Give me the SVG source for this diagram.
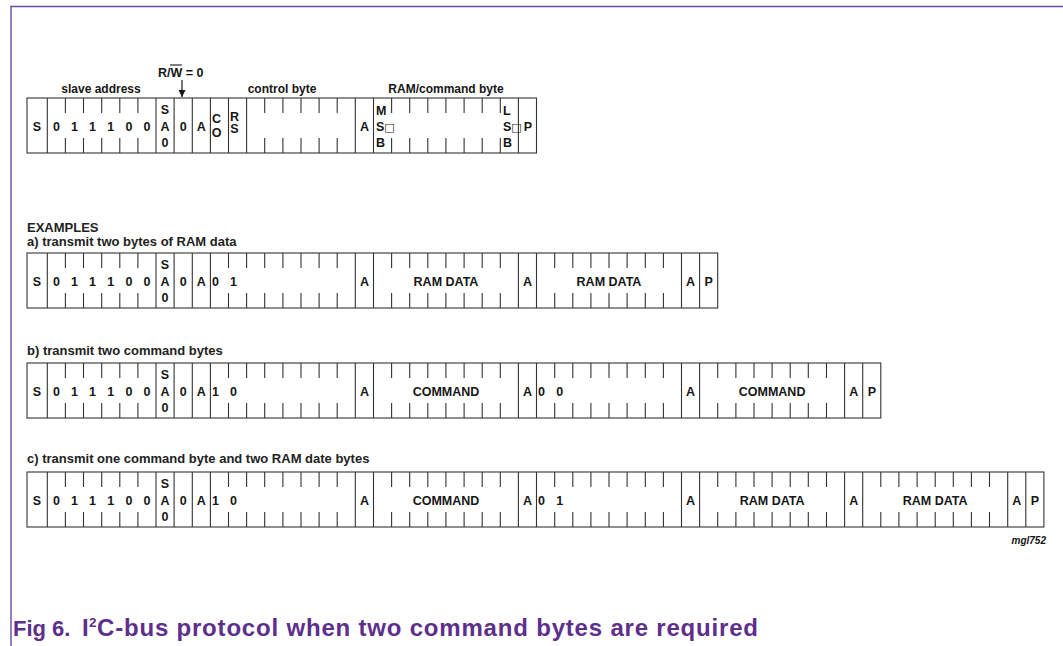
<svg xmlns="http://www.w3.org/2000/svg" width="1063" height="646" viewBox="0 0 1063 646">
<defs>
<style>
text{font-family:"Liberation Sans",Arial,Helvetica,sans-serif;fill:#161616}
.h{font-weight:bold;font-size:12px}
.b{font-weight:bold;font-size:12.5px}
.c{text-anchor:middle}
.lbl{font-weight:bold;font-size:13px;fill:#222}
.sq{font-family:"DejaVu Sans",sans-serif;font-size:11px;font-weight:normal}
.box{fill:none;stroke:#333;stroke-width:1.1}
.sep{fill:none;stroke:#333;stroke-width:1.1}
.frame{fill:none;stroke:#6a4a9c;stroke-width:1.4}
.cap{font-weight:bold;font-size:22px;fill:#5d2e8c}
</style>
<marker id="ah" viewBox="0 0 10 10" refX="10" refY="5" markerWidth="7" markerHeight="10" markerUnits="userSpaceOnUse" orient="auto"><path d="M0 0L10 5L0 10z" fill="#161616"/></marker>
</defs>
<rect width="1063" height="646" fill="#fff"/>
<path class="frame" d="M1063 6.5H11V646"/>

<g id="format">
<text class="h c" x="101" y="92.5">slave address</text>
<text class="h c" x="282" y="92.5">control byte</text>
<text class="h c" x="446" y="92.5">RAM/command byte</text>
<text class="h" x="158" y="77" style="font-size:12.5px">R/W = 0</text>
<path d="M170 65H181.8" stroke="#161616" stroke-width="1.1"/>
<rect class="box" x="27" y="98" width="509.5" height="55"/>
<path class="sep" d="M47.3 98V153M156 98V153M174.1 98V153M192.3 98V153M210.4 98V153M228.5 98V153M246.6 98V153M355.3 98V153M373.5 98V153M518.4 98V153"/>
<path class="sep" d="M65.4 98v15M83.5 98v15M101.7 98v15M119.8 98v15M137.9 98v15M264.7 98v15M282.9 98v15M301 98v15M319.1 98v15M337.2 98v15M391.6 98v15M409.7 98v15M427.8 98v15M445.9 98v15M464.1 98v15M482.2 98v15M500.3 98v15M65.4 153v-15M83.5 153v-15M101.7 153v-15M119.8 153v-15M137.9 153v-15M264.7 153v-15M282.9 153v-15M301 153v-15M319.1 153v-15M337.2 153v-15M391.6 153v-15M409.7 153v-15M427.8 153v-15M445.9 153v-15M464.1 153v-15M482.2 153v-15M500.3 153v-15"/>
<g class="b c">
<text x="37" y="130.5">S</text>
<text x="56.4" y="130.5">0</text><text x="74.5" y="130.5">1</text><text x="92.6" y="130.5">1</text><text x="110.7" y="130.5">1</text><text x="128.9" y="130.5">0</text><text x="147" y="130.5">0</text>
<text x="165" y="114">S</text><text x="165" y="130.5">A</text><text x="165" y="147">0</text>
<text x="183.2" y="130.5">0</text>
<text x="201.3" y="130.5">A</text>
<text x="216.5" y="122.5">C</text><text x="216.5" y="136.5">O</text>
<text x="234.5" y="121">R</text><text x="234.5" y="133">S</text>
<text x="364.4" y="130.5">A</text>
<text x="527.8" y="130.5">P</text>
</g>
<g class="b">
<text x="376" y="114.5">M</text><text x="376" y="131">S<tspan class="sq">□</tspan></text><text x="376" y="147">B</text>
<text x="503" y="114.5">L</text><text x="503" y="131">S<tspan class="sq">□</tspan></text><text x="503" y="147">B</text>
</g>
</g>

<g id="example-a">
<text class="lbl" x="27" y="231.5">EXAMPLES</text>
<text class="lbl" x="27" y="246">a) transmit two bytes of RAM data</text>
<rect class="box" x="27" y="253" width="690.7" height="55"/>
<path class="sep" d="M47.3 253V308M156 253V308M174.1 253V308M192.3 253V308M210.4 253V308M355.3 253V308M373.5 253V308M518.4 253V308M536.5 253V308M681.5 253V308M699.6 253V308"/>
<path class="sep" d="M65.4 253v15M83.5 253v15M101.7 253v15M119.8 253v15M137.9 253v15M228.5 253v15M246.6 253v15M264.7 253v15M282.9 253v15M301 253v15M319.1 253v15M337.2 253v15M391.6 253v15M409.7 253v15M427.8 253v15M445.9 253v15M464.1 253v15M482.2 253v15M500.3 253v15M554.7 253v15M572.8 253v15M590.9 253v15M609 253v15M627.1 253v15M645.3 253v15M663.4 253v15M65.4 308v-15M83.5 308v-15M101.7 308v-15M119.8 308v-15M137.9 308v-15M228.5 308v-15M246.6 308v-15M264.7 308v-15M282.9 308v-15M301 308v-15M319.1 308v-15M337.2 308v-15M391.6 308v-15M409.7 308v-15M427.8 308v-15M445.9 308v-15M464.1 308v-15M482.2 308v-15M500.3 308v-15M554.7 308v-15M572.8 308v-15M590.9 308v-15M609 308v-15M627.1 308v-15M645.3 308v-15M663.4 308v-15"/>
<g class="b c">
<text x="37" y="285.5">S</text>
<text x="56.4" y="285.5">0</text><text x="74.5" y="285.5">1</text><text x="92.6" y="285.5">1</text><text x="110.7" y="285.5">1</text><text x="128.9" y="285.5">0</text><text x="147" y="285.5">0</text>
<text x="165" y="269">S</text><text x="165" y="285.5">A</text><text x="165" y="302">0</text>
<text x="183.2" y="285.5">0</text>
<text x="201.3" y="285.5">A</text>
<text x="215.5" y="285.5">0</text><text x="233.6" y="285.5">1</text>
<text x="364.4" y="285.5">A</text>
<text x="446" y="285.5">RAM DATA</text>
<text x="527.5" y="285.5">A</text>
<text x="609" y="285.5">RAM DATA</text>
<text x="690.6" y="285.5">A</text>
<text x="708.7" y="285.5">P</text>
</g>
</g>

<g id="example-b">
<text class="lbl" x="27" y="355">b) transmit two command bytes</text>
<rect class="box" x="27" y="363" width="853.8" height="55"/>
<path class="sep" d="M47.3 363V418M156 363V418M174.1 363V418M192.3 363V418M210.4 363V418M355.3 363V418M373.5 363V418M518.4 363V418M536.5 363V418M681.5 363V418M699.6 363V418M844.6 363V418M862.7 363V418"/>
<path class="sep" d="M65.4 363v15M83.5 363v15M101.7 363v15M119.8 363v15M137.9 363v15M228.5 363v15M246.6 363v15M264.7 363v15M282.9 363v15M301 363v15M319.1 363v15M337.2 363v15M391.6 363v15M409.7 363v15M427.8 363v15M445.9 363v15M464.1 363v15M482.2 363v15M500.3 363v15M554.7 363v15M572.8 363v15M590.9 363v15M609 363v15M627.1 363v15M645.3 363v15M663.4 363v15M717.7 363v15M735.9 363v15M754 363v15M772.1 363v15M790.2 363v15M808.3 363v15M826.5 363v15M65.4 418v-15M83.5 418v-15M101.7 418v-15M119.8 418v-15M137.9 418v-15M228.5 418v-15M246.6 418v-15M264.7 418v-15M282.9 418v-15M301 418v-15M319.1 418v-15M337.2 418v-15M391.6 418v-15M409.7 418v-15M427.8 418v-15M445.9 418v-15M464.1 418v-15M482.2 418v-15M500.3 418v-15M554.7 418v-15M572.8 418v-15M590.9 418v-15M609 418v-15M627.1 418v-15M645.3 418v-15M663.4 418v-15M717.7 418v-15M735.9 418v-15M754 418v-15M772.1 418v-15M790.2 418v-15M808.3 418v-15M826.5 418v-15"/>
<g class="b c">
<text x="37" y="395.5">S</text>
<text x="56.4" y="395.5">0</text><text x="74.5" y="395.5">1</text><text x="92.6" y="395.5">1</text><text x="110.7" y="395.5">1</text><text x="128.9" y="395.5">0</text><text x="147" y="395.5">0</text>
<text x="165" y="379">S</text><text x="165" y="395.5">A</text><text x="165" y="412">0</text>
<text x="183.2" y="395.5">0</text>
<text x="201.3" y="395.5">A</text>
<text x="215.5" y="395.5">1</text><text x="233.6" y="395.5">0</text>
<text x="364.4" y="395.5">A</text>
<text x="446" y="395.5">COMMAND</text>
<text x="527.5" y="395.5">A</text>
<text x="541.6" y="395.5">0</text><text x="559.7" y="395.5">0</text>
<text x="690.6" y="395.5">A</text>
<text x="772.1" y="395.5">COMMAND</text>
<text x="853.7" y="395.5">A</text>
<text x="871.8" y="395.5">P</text>
</g>
</g>

<g id="example-c">
<text class="lbl" x="27" y="463">c) transmit one command byte and two RAM date bytes</text>
<rect class="box" x="27" y="472" width="1016.9" height="55"/>
<path class="sep" d="M47.3 472V527M156 472V527M174.1 472V527M192.3 472V527M210.4 472V527M355.3 472V527M373.5 472V527M518.4 472V527M536.5 472V527M681.5 472V527M699.6 472V527M844.6 472V527M862.7 472V527M1007.7 472V527M1025.8 472V527"/>
<path class="sep" d="M65.4 472v15M83.5 472v15M101.7 472v15M119.8 472v15M137.9 472v15M228.5 472v15M246.6 472v15M264.7 472v15M282.9 472v15M301 472v15M319.1 472v15M337.2 472v15M391.6 472v15M409.7 472v15M427.8 472v15M445.9 472v15M464.1 472v15M482.2 472v15M500.3 472v15M554.7 472v15M572.8 472v15M590.9 472v15M609 472v15M627.1 472v15M645.3 472v15M663.4 472v15M717.7 472v15M735.9 472v15M754 472v15M772.1 472v15M790.2 472v15M808.3 472v15M826.5 472v15M880.8 472v15M898.9 472v15M917.1 472v15M935.2 472v15M953.3 472v15M971.4 472v15M989.5 472v15M65.4 527v-15M83.5 527v-15M101.7 527v-15M119.8 527v-15M137.9 527v-15M228.5 527v-15M246.6 527v-15M264.7 527v-15M282.9 527v-15M301 527v-15M319.1 527v-15M337.2 527v-15M391.6 527v-15M409.7 527v-15M427.8 527v-15M445.9 527v-15M464.1 527v-15M482.2 527v-15M500.3 527v-15M554.7 527v-15M572.8 527v-15M590.9 527v-15M609 527v-15M627.1 527v-15M645.3 527v-15M663.4 527v-15M717.7 527v-15M735.9 527v-15M754 527v-15M772.1 527v-15M790.2 527v-15M808.3 527v-15M826.5 527v-15M880.8 527v-15M898.9 527v-15M917.1 527v-15M935.2 527v-15M953.3 527v-15M971.4 527v-15M989.5 527v-15"/>
<g class="b c">
<text x="37" y="504.5">S</text>
<text x="56.4" y="504.5">0</text><text x="74.5" y="504.5">1</text><text x="92.6" y="504.5">1</text><text x="110.7" y="504.5">1</text><text x="128.9" y="504.5">0</text><text x="147" y="504.5">0</text>
<text x="165" y="488">S</text><text x="165" y="504.5">A</text><text x="165" y="521">0</text>
<text x="183.2" y="504.5">0</text>
<text x="201.3" y="504.5">A</text>
<text x="215.5" y="504.5">1</text><text x="233.6" y="504.5">0</text>
<text x="364.4" y="504.5">A</text>
<text x="446" y="504.5">COMMAND</text>
<text x="527.5" y="504.5">A</text>
<text x="541.6" y="504.5">0</text><text x="559.7" y="504.5">1</text>
<text x="690.6" y="504.5">A</text>
<text x="772.1" y="504.5">RAM DATA</text>
<text x="853.7" y="504.5">A</text>
<text x="935.2" y="504.5">RAM DATA</text>
<text x="1016.8" y="504.5">A</text>
<text x="1034.9" y="504.5">P</text>
</g>
<text x="1046" y="544" style="font-weight:bold;font-style:italic;font-size:10px;text-anchor:end">mgl752</text>
</g>

<g id="connectors">
<path d="M182 80V97" stroke="#161616" stroke-width="1.2" marker-end="url(#ah)"/>
</g>

<g id="caption">
<text class="cap" x="13" y="636">Fig 6.</text>
<text class="cap" x="82" y="636" style="font-size:24px">I</text>
<text class="cap" x="89" y="626.5" style="font-size:13.5px">2</text>
<text class="cap" x="97" y="636" style="font-size:24px" textLength="661" lengthAdjust="spacing">C-bus protocol when two command bytes are required</text>
</g>
</svg>
